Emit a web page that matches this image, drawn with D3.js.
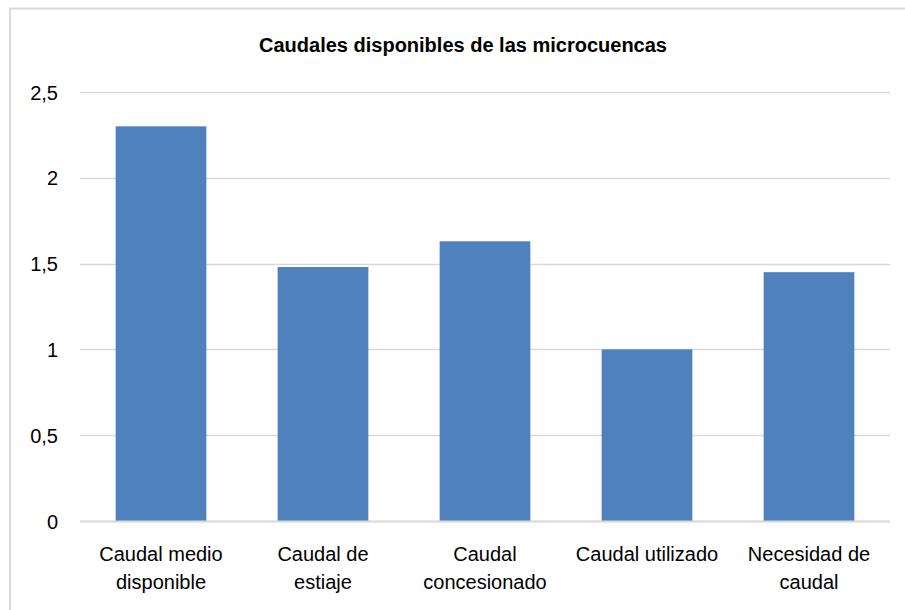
<!DOCTYPE html>
<html>
<head>
<meta charset="utf-8">
<script src="https://cdn.jsdelivr.net/npm/d3@7"></script>
<style>
  html, body { margin: 0; padding: 0; background: #fff; }
  svg { display: block; }
  text { font-family: "Liberation Sans", Arial, sans-serif; fill: #000; }
</style>
</head>
<body>
<svg id="chart" width="905" height="610"></svg>
<script>
// Caudales por tipo (valores en las unidades del eje)
const categories = [
  ["Caudal medio", "disponible"],
  ["Caudal de", "estiaje"],
  ["Caudal", "concesionado"],
  ["Caudal utilizado"],
  ["Necesidad de", "caudal"]
];
const values = [2.30, 1.48, 1.63, 1.00, 1.45];
const yTicks = [0, 0.5, 1, 1.5, 2, 2.5];
const title = "Caudales disponibles de las microcuencas";

const svg = d3.select("#chart");
const W = 905, H = 610;
const margin = { left: 80, right: 15, top: 92, bottom: 89 };
const plotRight = W - margin.right;
const plotBottom = H - margin.bottom;

// Chart frame (right and bottom edges fall outside the view)
svg.append("rect")
  .attr("x", 10).attr("y", 8.5)
  .attr("width", 930).attr("height", 640)
  .attr("fill", "#fff")
  .attr("stroke", "#d9d9d9").attr("stroke-width", 2);

const keys = categories.map(c => c.join(" "));
const x = d3.scaleBand()
  .domain(keys)
  .range([margin.left, plotRight])
  .paddingInner(0.44)
  .paddingOuter(0.22);

const y = d3.scaleLinear()
  .domain([0, 2.5])
  .range([plotBottom, margin.top]);

const fmt = d => String(d).replace(".", ",");

// Gridlines
svg.append("g")
  .selectAll("line")
  .data(yTicks)
  .join("line")
  .attr("x1", margin.left).attr("x2", plotRight)
  .attr("y1", d => Math.round(y(d)) + 0.5).attr("y2", d => Math.round(y(d)) + 0.5)
  .attr("stroke", "#d9d9d9").attr("stroke-width", 1.5);

// Y axis labels
const yAxis = d3.axisLeft(y).tickValues(yTicks).tickFormat(fmt).tickSize(0).tickPadding(0);
const gy = svg.append("g")
  .attr("transform", `translate(${margin.left - 22},0)`)
  .call(yAxis);
gy.select(".domain").remove();
gy.selectAll("text")
  .style("font-family", '"Liberation Sans", Arial, sans-serif')
  .style("font-size", "20px")
  .attr("dy", "0.35em");

// Bars
svg.append("g")
  .selectAll("rect")
  .data(values)
  .join("rect")
  .attr("x", (d, i) => x(keys[i]))
  .attr("width", x.bandwidth())
  .attr("y", d => y(d))
  .attr("height", d => y(0) - y(d))
  .attr("fill", "#4f81bd");

// Baseline
svg.append("line")
  .attr("x1", margin.left).attr("x2", plotRight)
  .attr("y1", Math.round(y(0)) + 0.5).attr("y2", Math.round(y(0)) + 0.5)
  .attr("stroke", "#d9d9d9").attr("stroke-width", 2);

// Category labels
const xl = svg.append("g")
  .selectAll("text")
  .data(categories)
  .join("text")
  .attr("x", (d, i) => x(keys[i]) + x.bandwidth() / 2)
  .attr("y", plotBottom + 40)
  .attr("text-anchor", "middle")
  .style("font-family", '"Liberation Sans", Arial, sans-serif')
  .style("font-size", "20px");
xl.selectAll("tspan")
  .data(d => d)
  .join("tspan")
  .attr("x", function () { return d3.select(this.parentNode).attr("x"); })
  .attr("dy", (d, i) => i === 0 ? 0 : 28)
  .text(d => d);

// Title
svg.append("text")
  .attr("x", 463)
  .attr("y", 52)
  .attr("text-anchor", "middle")
  .style("font-family", '"Liberation Sans", Arial, sans-serif')
  .style("font-weight", "bold")
  .style("font-size", "20px")
  .text(title);
</script>
</body>
</html>
